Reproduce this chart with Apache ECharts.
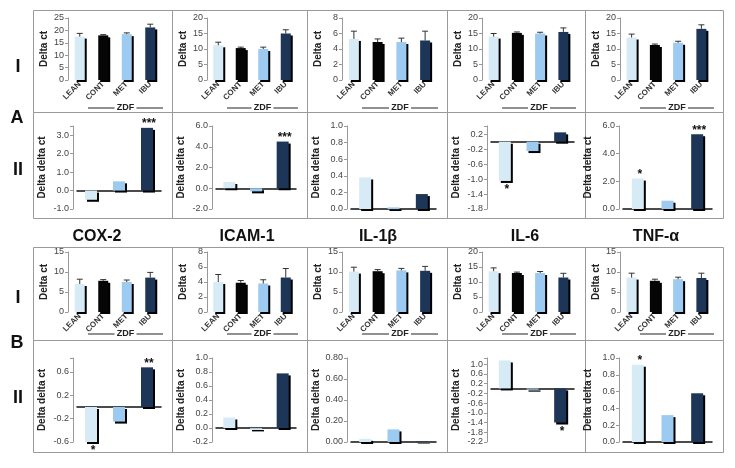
<!DOCTYPE html>
<html>
<head>
<meta charset="utf-8">
<script src="https://cdn.jsdelivr.net/npm/echarts@6/dist/echarts.min.js"></script>
<style>
html, body { margin: 0; padding: 0; background: #fff; }
#chart { width: 735px; height: 468px; }
</style>
</head>
<body>
<div id="chart"></div>
<script>
// ---- data ----
const genes = ['COX-2', 'ICAM-1', 'IL-1β', 'IL-6', 'TNF-α'];
const groupsI = ['LEAN', 'CONT', 'MET', 'IBU'];
const groupsII = ['LEAN', 'MET', 'IBU'];

// panel A, row I: delta ct means and error bars (per gene)
const deltaA = [[17.5, 18.0, 18.5, 21.2], [11.2, 10.3, 10.0, 15.0], [5.3, 4.9, 4.9, 5.1], [14.0, 15.2, 15.0, 15.5], [13.7, 11.3, 12.0, 16.5]];
const errA = [[1.3, 0.3, 0.5, 1.3], [1.0, 0.3, 0.6, 1.2], [1.0, 0.4, 0.5, 1.2], [1.0, 0.3, 0.4, 1.3], [1.1, 0.3, 0.5, 1.3]];
// panel A, row II: delta delta ct (LEAN, MET, IBU vs CONT)
const ddA = [[-0.5, 0.5, 3.4], [0.6, -0.3, 4.5], [0.38, 0.02, 0.18], [-1.05, -0.25, 0.25], [2.2, 0.6, 5.4]];
const starsA = [['', '', '***'], ['', '', '***'], ['', '', ''], ['*', '', ''], ['*', '', '***']];

// panel B
const deltaB = [[7.0, 7.8, 7.5, 8.6], [4.0, 3.9, 3.8, 4.6], [10.1, 10.2, 10.4, 10.3], [13.6, 13.0, 13.0, 11.5], [8.6, 7.8, 8.2, 8.5]];
const errB = [[1.2, 0.3, 0.5, 1.3], [1.0, 0.3, 0.5, 1.2], [1.1, 0.4, 0.5, 1.1], [1.1, 0.3, 0.5, 1.4], [1.1, 0.4, 0.5, 1.2]];
const ddB = [[-0.6, -0.25, 0.68], [0.15, -0.02, 0.78], [0.03, 0.12, 0.005], [1.15, -0.05, -1.4], [0.92, 0.32, 0.58]];
const starsB = [['*', '', '**'], ['', '', ''], ['', '', ''], ['', '', '*'], ['*', '', '']];

// axis ticks
const maxAI = [25, 20, 8, 20, 20], stepAI = [5, 5, 2, 5, 5];
const maxBI = [15, 8, 15, 20, 15], stepBI = [5, 2, 5, 5, 5];
const minAII = [-1, -2, 0, -1.8, 0], maxAII = [3.5, 6, 1, 0.42, 6], stepAII = [1, 2, 0.2, 0.4, 2], decAII = [1, 1, 1, 1, 1];
const minBII = [-0.6, -0.2, 0, -2.2, 0], maxBII = [0.84, 1, 0.8, 1.25, 1], stepBII = [0.4, 0.2, 0.2, 0.4, 0.2], decBII = [1, 1, 2, 1, 1];

// ---- layout / style ----
const colEdges = [33, 172, 307, 447, 585, 723];
const rowBoxes = [[10, 112], [112, 218], [247, 340], [340, 452]];
const plotTB = [[18, 80], [126, 209], [252, 312], [358, 442]];
const zdfY = [108, 334];
const barColors = { LEAN: '#d6ebf6', CONT: '#050505', MET: '#9ccaf0', IBU: '#1d3658' };
const FONT = 'Liberation Sans, Arial, sans-serif';

function tickFormatter(min, step, dec) {
    return v => {
        const k = (v - min) / step;
        if (Math.abs(k - Math.round(k)) > 1e-6) return '';
        if (Math.abs(v) < 1e-9) v = 0;
        return v.toFixed(dec);
    };
}

const option = {
    animation: false,
    textStyle: { fontFamily: FONT },
    grid: [], xAxis: [], yAxis: [], series: [], graphic: []
};

const shadowStyle = { shadowColor: '#000', shadowBlur: 0, shadowOffsetX: 2, shadowOffsetY: 2 };
const yAxisBase = {
    type: 'value',
    splitLine: { show: false },
    axisLine: { show: true, lineStyle: { color: '#999' } },
    axisTick: { show: true, length: 3, lineStyle: { color: '#999' } },
    nameLocation: 'middle',
    nameTextStyle: { fontSize: 10, fontWeight: 'bold', color: '#222' }
};

for (let r = 0; r < 4; r++) {
    const rowI = r % 2 === 0;
    const panelB = r >= 2;
    const [top, bottom] = plotTB[r];
    for (let c = 0; c < 5; c++) {
        const gi = option.grid.length;
        if (rowI) {
            const left = colEdges[c] + 35, right = colEdges[c + 1] - 10;
            const means = panelB ? deltaB[c] : deltaA[c];
            const errs = panelB ? errB[c] : errA[c];
            const max = panelB ? maxBI[c] : maxAI[c];
            const step = panelB ? stepBI[c] : stepAI[c];
            option.grid.push({ left, top, width: right - left, height: bottom - top });
            option.xAxis.push({
                type: 'category', gridIndex: gi, data: groupsI,
                axisLine: { show: false }, axisTick: { show: false },
                axisLabel: { rotate: 45, interval: 0, fontSize: 8, fontWeight: 'bold', color: '#333', margin: 3 }
            });
            option.yAxis.push(Object.assign({}, yAxisBase, {
                gridIndex: gi, min: 0, max, interval: step, name: 'Delta ct', nameGap: 19,
                axisLabel: { fontSize: 9, color: '#444', margin: 4, formatter: tickFormatter(0, step, 0) }
            }));
            option.series.push({
                type: 'bar', xAxisIndex: gi, yAxisIndex: gi, barWidth: 10,
                itemStyle: shadowStyle,
                data: means.map((v, k) => ({ value: v, itemStyle: { color: barColors[groupsI[k]] } }))
            });
            option.series.push({
                type: 'custom', xAxisIndex: gi, yAxisIndex: gi, z: 3,
                data: means.map((v, k) => [k, v, v + errs[k]]),
                renderItem: (params, api) => {
                    const x = api.coord([api.value(0), 0])[0];
                    const yb = api.coord([api.value(0), api.value(1)])[1];
                    const yt = api.coord([api.value(0), api.value(2)])[1];
                    return {
                        type: 'group', children: [
                            { type: 'line', shape: { x1: x, y1: yb, x2: x, y2: yt }, style: { stroke: '#333', lineWidth: 1 } },
                            { type: 'line', shape: { x1: x - 3, y1: yt, x2: x + 3, y2: yt }, style: { stroke: '#333', lineWidth: 1 } }
                        ]
                    };
                }
            });
            // ZDF bracket under CONT / MET / IBU
            const zl = left + 20, zr = right + 1, zm = (zl + zr) / 2, zy = zdfY[panelB ? 1 : 0];
            option.graphic.push(
                { type: 'line', shape: { x1: zl, y1: zy, x2: zm - 11, y2: zy }, style: { stroke: '#222', lineWidth: 1 } },
                { type: 'line', shape: { x1: zm + 11, y1: zy, x2: zr, y2: zy }, style: { stroke: '#222', lineWidth: 1 } },
                { type: 'text', x: zm, y: zy, style: { text: 'ZDF', font: 'bold 9px ' + FONT, fill: '#222', align: 'center', verticalAlign: 'middle', textAlign: 'center', textVerticalAlign: 'middle' } }
            );
        } else {
            const axisX = colEdges[c] + (c === 4 ? 34 : 40);
            const left = axisX + 4, right = colEdges[c + 1] - 11;
            const vals = panelB ? ddB[c] : ddA[c];
            const stars = panelB ? starsB[c] : starsA[c];
            const min = panelB ? minBII[c] : minAII[c];
            const max = panelB ? maxBII[c] : maxAII[c];
            const step = panelB ? stepBII[c] : stepAII[c];
            const dec = panelB ? decBII[c] : decAII[c];
            option.grid.push({ left, top, width: right - left, height: bottom - top });
            option.xAxis.push({
                type: 'category', gridIndex: gi, data: groupsII,
                axisLine: { show: true, onZero: true, lineStyle: { color: '#111', width: 1.5 } },
                axisTick: { show: false }, axisLabel: { show: false }
            });
            option.yAxis.push(Object.assign({}, yAxisBase, {
                gridIndex: gi, min, max, interval: step, offset: 4, name: 'Delta delta ct', nameGap: 26,
                axisLabel: { fontSize: 9, color: '#444', margin: 4, formatter: tickFormatter(min, step, dec) }
            }));
            option.series.push({
                type: 'bar', xAxisIndex: gi, yAxisIndex: gi, barWidth: 12,
                itemStyle: shadowStyle,
                data: vals.map((v, k) => ({
                    value: v,
                    itemStyle: { color: barColors[groupsII[k]] },
                    label: {
                        show: stars[k] !== '', formatter: stars[k], position: v < 0 ? 'bottom' : 'top',
                        distance: 1, fontSize: 12, fontWeight: 'bold', color: '#111', offset: [2, v < 0 ? 2 : 3]
                    }
                }))
            });
        }
    }
}

// panel borders
rowBoxes.forEach(([y0, y1]) => {
    for (let c = 0; c < 5; c++) {
        option.graphic.push({
            type: 'rect', silent: true,
            shape: { x: colEdges[c] + 0.5, y: y0 + 0.5, width: colEdges[c + 1] - colEdges[c], height: y1 - y0 },
            style: { fill: 'none', stroke: '#9a9a9a', lineWidth: 1 }
        });
    }
});

// gene names between panel A and B
const titleX = [97, 247, 378, 525, 656];
genes.forEach((g, c) => {
    option.graphic.push({
        type: 'text', x: titleX[c], y: 237,
        style: { text: g, font: 'bold 16px Liberation Sans Narrow, ' + FONT, fill: '#111', align: 'center', verticalAlign: 'middle', textAlign: 'center', textVerticalAlign: 'middle' }
    });
});

// row / panel labels
[['I', 18, 67], ['A', 17, 118], ['II', 18, 170], ['I', 18, 298], ['B', 17, 343], ['II', 18, 398]].forEach(([t, x, y]) => {
    option.graphic.push({
        type: 'text', x, y,
        style: { text: t, font: 'bold 18px ' + FONT, fill: '#111', align: 'center', verticalAlign: 'middle', textAlign: 'center', textVerticalAlign: 'middle' }
    });
});

const chart = echarts.init(document.getElementById('chart'));
chart.setOption(option);
window.addEventListener('resize', () => chart.resize());
</script>
</body>
</html>
